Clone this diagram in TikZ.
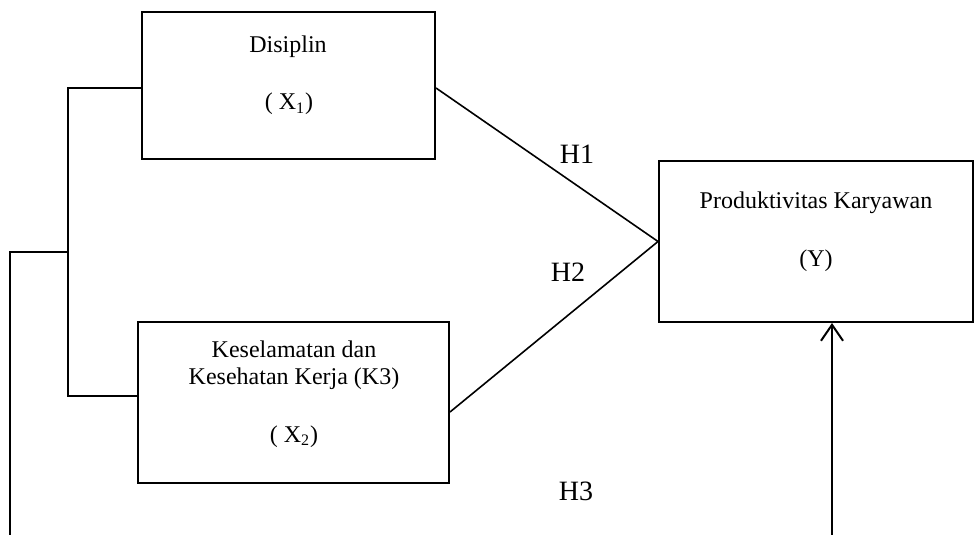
\documentclass[tikz,border=0pt]{standalone}
\usepackage{fontspec}
\setmainfont{Liberation Serif}
\usepackage{tikz}
\usetikzlibrary{positioning,arrows.meta}

\begin{document}
\begin{tikzpicture}[
  x=0.5pt, y=-0.5pt,
  varbox/.style={draw, line width=1pt, inner sep=0pt},
  boxtext/.style={font=\fontsize{12}{14}\selectfont, anchor=base, inner sep=0pt},
  hyplabel/.style={font=\fontsize{14}{16}\selectfont, anchor=base, inner sep=0pt},
  path/.style={line width=1pt},
  hline/.style={line width=0.8pt},
  >={Straight Barb[length=8pt,width=11pt]}
]
\useasboundingbox (0,0) rectangle (980,535);

% Variable boxes
\node[varbox, minimum width=146.5pt, minimum height=73.5pt] (x1) at (288.5,85.5) {};
\node[varbox, minimum width=155.5pt, minimum height=80.5pt] (x2) at (293.5,402.5) {};
\node[varbox, minimum width=157pt, minimum height=80.5pt] (y) at (816,241.5) {};

% Box texts
\node[boxtext] (x1name) at (288,53) {Disiplin};
\node[boxtext] (x1sym) at (289,110) {( X\textsubscript{1})};
\node[boxtext] (x2name) at (294,357) {Keselamatan dan};
\node[boxtext] (x2name2) at (294,384) {Kesehatan Kerja (K3)};
\node[boxtext] (x2sym) at (294,442) {( X\textsubscript{2})};
\node[boxtext] (yname) at (816,208) {Produktivitas Karyawan};
\node[boxtext] (ysym) at (816,266) {(Y)};

% Hypotheses
\node[hyplabel] (h1) at (577,163) {H1};
\node[hyplabel] (h2) at (568,281) {H2};
\node[hyplabel] (h3) at (576,500) {H3};

% Joint and open ends
\coordinate (jn) at (68,252);
\coordinate (lowL) at (10,535);
\coordinate (lowR) at (832,535);

% Connectors
\draw[hline] ([yshift=-1.25pt]x1.east) -- (y.west);
\draw[hline] ([yshift=-4.75pt]x2.east) -- (y.west);
\draw[path] ([yshift=-1.25pt]x1.west) -| (jn) |- ([yshift=3.25pt]x2.west);
\draw[path] (jn) -| (lowL);
\draw[path, ->] (lowR) -- (y.south -| lowR);

\end{tikzpicture}
\end{document}
